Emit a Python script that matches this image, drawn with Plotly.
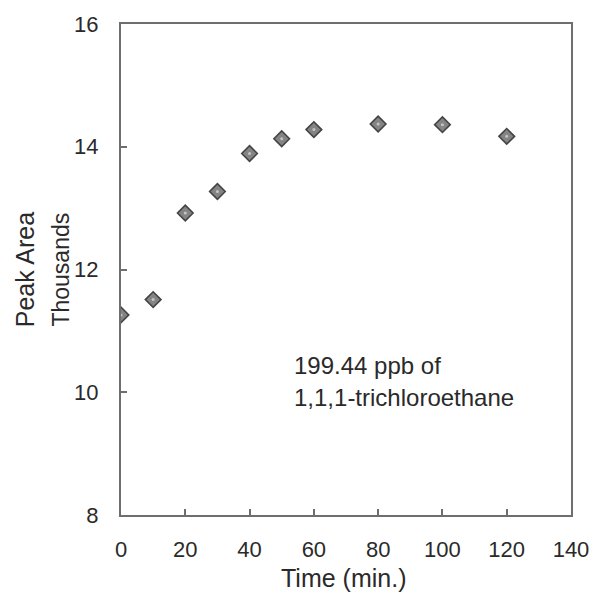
import plotly.graph_objects as go

time_min = [0, 10, 20, 30, 40, 50, 60, 80, 100, 120]
peak_area_thousands = [11.26, 11.51, 12.92, 13.27, 13.89, 14.13, 14.28, 14.37, 14.36, 14.17]
x_ticks = [0, 20, 40, 60, 80, 100, 120, 140]
y_ticks = [8, 10, 12, 14, 16]

FONT = "Liberation Sans, Arial, sans-serif"
AX = "#6e6e6e"

fig = go.Figure()
fig.add_trace(go.Scatter(
    x=time_min, y=peak_area_thousands, mode="markers",
    marker=dict(symbol="diamond", size=12, color="#848484",
                line=dict(color="#444444", width=1.6)),
    showlegend=False, hoverinfo="x+y"))
fig.add_trace(go.Scatter(
    x=time_min, y=peak_area_thousands, mode="markers",
    marker=dict(symbol="circle", size=3, color="#c4c4c4", line=dict(width=0)),
    showlegend=False, hoverinfo="skip"))

W, H = 601, 593
L, R, T, B = 121, 22, 21, 78
pw, ph = W - L - R, H - T - B

def px_x(px):
    return (px - L) / pw

def px_y(py):
    return 1 - (py - T) / ph

fig.update_layout(
    width=W, height=H,
    margin=dict(l=L, r=R, t=T, b=B),
    paper_bgcolor="white", plot_bgcolor="white",
    font=dict(family=FONT, size=22, color="#2a2a2a"),
    xaxis=dict(range=[0, 140], tickvals=x_ticks, ticktext=[str(v) for v in x_ticks],
               showgrid=False, zeroline=False, showline=True, linecolor=AX, linewidth=2,
               mirror=True, ticks="inside", ticklen=6, tickcolor=AX, tickwidth=1.5,
               ticklabelstandoff=14, tickfont=dict(size=22)),
    yaxis=dict(range=[8, 16], tickvals=y_ticks, ticktext=[str(v) for v in y_ticks],
               showgrid=False, zeroline=False, showline=True, linecolor=AX, linewidth=2,
               mirror=True, ticks="inside", ticklen=6, tickcolor=AX, tickwidth=1.5,
               ticklabelstandoff=16, tickfont=dict(size=22)),
    annotations=[
        dict(text="Peak Area", textangle=-90, xref="paper", yref="paper",
             x=px_x(23), y=px_y(268), xanchor="center", yanchor="middle",
             showarrow=False, font=dict(size=25)),
        dict(text="Thousands", textangle=-90, xref="paper", yref="paper",
             x=px_x(59), y=px_y(268), xanchor="center", yanchor="middle",
             showarrow=False, font=dict(size=23)),
        dict(text="Time (min.)", xref="paper", yref="paper",
             x=px_x(347), y=px_y(578), xanchor="center", yanchor="middle",
             showarrow=False, font=dict(size=25)),
        dict(text="199.44 ppb of", xref="x", yref="y", x=53.2, y=10.43,
             xanchor="left", yanchor="middle", showarrow=False, font=dict(size=24)),
        dict(text="1,1,1-trichloroethane", xref="x", yref="y", x=53.2, y=9.92,
             xanchor="left", yanchor="middle", showarrow=False, font=dict(size=24)),
    ],
)

fig.write_html("out.html")
